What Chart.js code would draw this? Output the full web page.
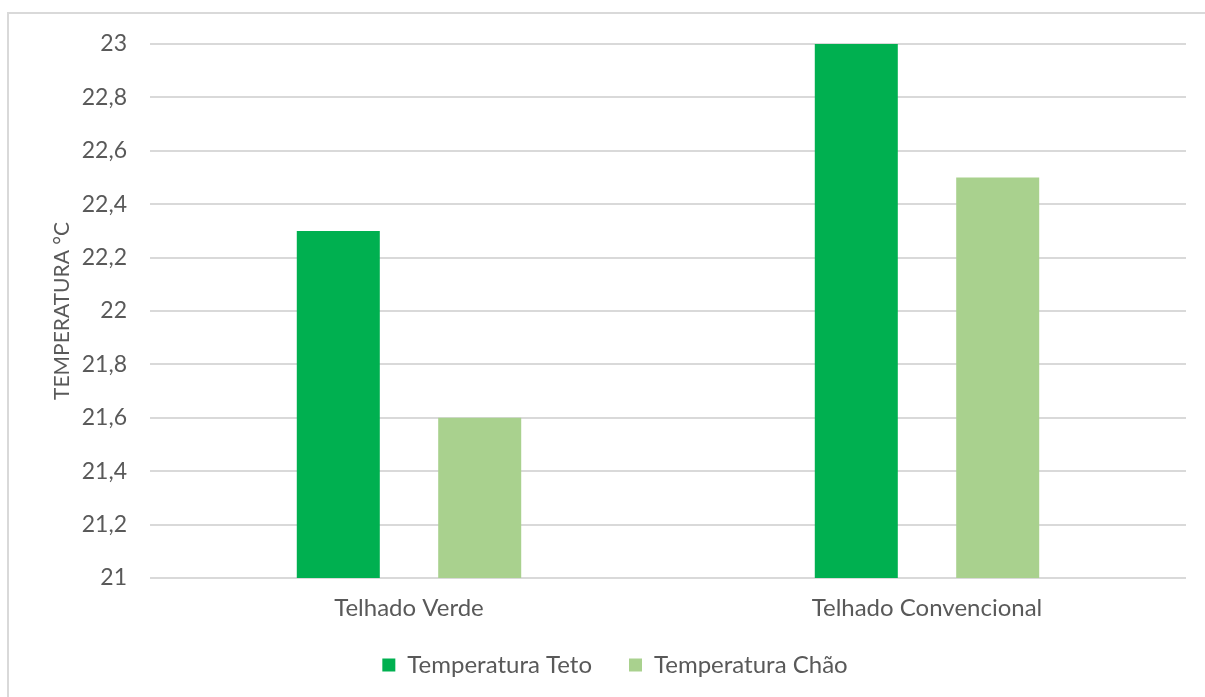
<!DOCTYPE html>
<html>
<head>
<meta charset="utf-8">
<script src="https://cdn.jsdelivr.net/npm/chart.js@4"></script>
<style>
  html, body { margin: 0; padding: 0; background: #fff; overflow: hidden; }
  #wrap { position: relative; width: 1205px; height: 697px; }
  #frame {
    position: absolute; left: 7px; top: 12px; width: 1300px; height: 800px;
    border: 2px solid #d9d9d9; box-sizing: border-box;
  }
  #chart { position: absolute; left: 0; top: 0; }
</style>
</head>
<body>
<div id="wrap">
  <div id="frame"></div>
  <canvas id="chart" width="1205" height="697"></canvas>
</div>
<script>
const categories = ["Telhado Verde", "Telhado Convencional"];
const tetoValues = [22.3, 23];
const chaoValues = [21.6, 22.5];
const yTicks = [21, 21.2, 21.4, 21.6, 21.8, 22, 22.2, 22.4, 22.6, 22.8, 23];

const textColor = "#595959";
const fontFamily = "Lato, 'Open Sans', sans-serif";

const barData = {
  labels: categories,
  datasets: [
    {
      label: "Temperatura Teto",
      data: tetoValues,
      backgroundColor: "#00B050",
      categoryPercentage: 0.546,
      barPercentage: 0.587,
    },
    {
      label: "Temperatura Chão",
      data: chaoValues,
      backgroundColor: "#A9D18E",
      categoryPercentage: 0.546,
      barPercentage: 0.587,
    },
  ],
};

const barConfig = {
  type: "bar",
  data: barData,
  options: {
    responsive: false,
    animation: false,
    layout: {
      padding: { top: 44, right: 19, left: 44, bottom: 10 },
    },
    plugins: {
      legend: {
        position: "bottom",
        labels: {
          color: textColor,
          boxWidth: 13,
          boxHeight: 13,
          padding: 37,
          font: { family: fontFamily, size: 24 },
        },
      },
      tooltip: { enabled: false },
    },
    scales: {
      x: {
        afterFit: (scale) => { scale.height = 38; },
        grid: { display: false },
        border: { display: false },
        ticks: {
          color: textColor,
          padding: 8,
          font: { family: fontFamily, size: 24 },
        },
      },
      y: {
        min: 21,
        max: 23,
        afterFit: (scale) => { scale.width = 106; },
        afterBuildTicks: (scale) => {
          scale.ticks = yTicks.map((v) => ({ value: v }));
        },
        grid: {
          color: "#d9d9d9",
          lineWidth: 2,
          drawTicks: false,
        },
        border: { display: false },
        ticks: {
          color: textColor,
          padding: 23,
          font: { family: fontFamily, size: 23 },
          callback: (v) => String(Math.round(v * 10) / 10).replace(".", ","),
        },
        title: {
          display: true,
          text: "TEMPERATURA °C",
          color: textColor,
          padding: { top: 6 },
          font: { family: fontFamily, size: 21 },
        },
      },
    },
  },
};

new Chart(document.getElementById("chart"), barConfig);
</script>
</body>
</html>
